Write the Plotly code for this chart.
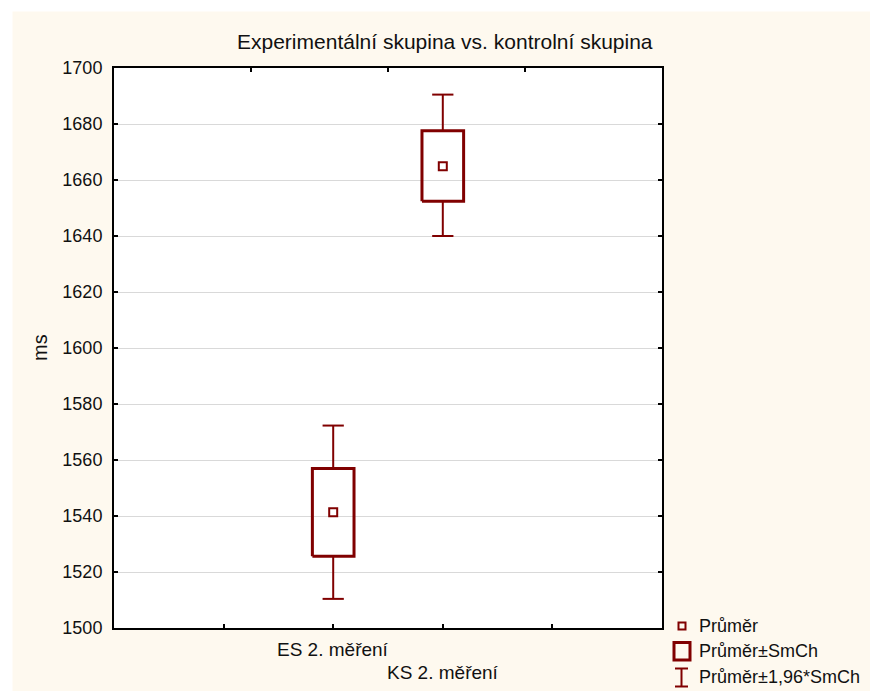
import plotly.graph_objects as go

# ---- data ----
categories = ["ES 2. měření", "KS 2. měření"]
means = [1541.3, 1664.9]
box_low = [1525.6, 1652.4]      # Průměr - SmCh
box_high = [1557.0, 1677.6]     # Průměr + SmCh
whisk_low = [1510.4, 1640.0]    # Průměr - 1,96*SmCh
whisk_high = [1572.3, 1690.5]   # Průměr + 1,96*SmCh
y_ticks = [1500, 1520, 1540, 1560, 1580, 1600, 1620, 1640, 1660, 1680, 1700]
title_text = "Experimentální skupina vs. kontrolní skupina"
y_title = "ms"
legend_labels = ["Průměr", "Průměr±SmCh", "Průměr±1,96*SmCh"]

# ---- style ----
W, H = 870, 691
L, R, T, B = 114, 662, 68, 628
RED = "#800000"
CREAM = "#FEF9EF"
FONT = "Liberation Sans, Arial, sans-serif"
TXT = "#111111"

def px(x):
    return (x - L) / (R - L)

def py(y):
    return (B - y) / (B - T)

fig = go.Figure()

pos = [i + 2 for i in range(len(categories))]
bw = 0.19
cw = 0.097

for i, c in enumerate(categories):
    x = pos[i]
    fig.add_trace(go.Scatter(
        x=[x, x, None, x, x, None, x - cw, x + cw, None, x - cw, x + cw],
        y=[box_high[i], whisk_high[i], None, box_low[i], whisk_low[i], None,
           whisk_high[i], whisk_high[i], None, whisk_low[i], whisk_low[i]],
        mode="lines", line=dict(color=RED, width=2), showlegend=False, hoverinfo="skip"))
    fig.add_trace(go.Scatter(
        x=[x - bw, x + bw, x + bw, x - bw, x - bw],
        y=[box_low[i], box_low[i], box_high[i], box_high[i], box_low[i]],
        mode="lines", line=dict(color=RED, width=3), showlegend=False, hoverinfo="skip"))

fig.add_trace(go.Scatter(
    x=pos, y=means, mode="markers",
    marker=dict(symbol="square-open", size=8, color=RED, line=dict(width=2, color=RED)),
    showlegend=False))

fig.add_trace(go.Scatter(x=[0], y=[1600], xaxis="x2", mode="markers",
                         marker=dict(opacity=0), showlegend=False, hoverinfo="skip"))

shapes = []
shapes.append(dict(type="rect", xref="paper", yref="paper", x0=px(0), x1=px(12.5), y0=py(H), y1=py(0),
                   fillcolor="white", line=dict(width=0), layer="below"))
shapes.append(dict(type="rect", xref="paper", yref="paper", x0=px(0), x1=px(W), y0=py(11.5), y1=py(0),
                   fillcolor="white", line=dict(width=0), layer="below"))

# legend glyphs
shapes.append(dict(type="rect", xref="paper", yref="paper", x0=px(678.5), x1=px(685.5), y0=py(629.5), y1=py(622.5),
                   line=dict(color=RED, width=2), fillcolor="rgba(0,0,0,0)"))
shapes.append(dict(type="rect", xref="paper", yref="paper", x0=px(674), x1=px(690), y0=py(660), y1=py(642.5),
                   line=dict(color=RED, width=3), fillcolor="rgba(0,0,0,0)"))
shapes.append(dict(type="line", xref="paper", yref="paper", x0=px(681.5), x1=px(681.5), y0=py(686.5), y1=py(668.5),
                   line=dict(color=RED, width=2)))
shapes.append(dict(type="line", xref="paper", yref="paper", x0=px(675), x1=px(688), y0=py(668.5), y1=py(668.5),
                   line=dict(color=RED, width=2)))
shapes.append(dict(type="line", xref="paper", yref="paper", x0=px(675), x1=px(688), y0=py(686.5), y1=py(686.5),
                   line=dict(color=RED, width=2)))

annotations = []
annotations.append(dict(text=title_text, xref="paper", yref="paper", x=px(445), y=py(42),
                        showarrow=False, font=dict(size=21, color=TXT, family=FONT),
                        xanchor="center", yanchor="middle"))
annotations.append(dict(text=y_title, xref="paper", yref="paper", x=px(40), y=py(348), textangle=-90,
                        showarrow=False, font=dict(size=20, color=TXT, family=FONT),
                        xanchor="center", yanchor="middle"))
label_y = [649, 672]
for i, c in enumerate(categories):
    annotations.append(dict(text=c, xref="x", yref="paper", x=pos[i], y=py(label_y[i]),
                            showarrow=False, font=dict(size=19, color=TXT, family=FONT),
                            xanchor="center", yanchor="middle"))
leg_y = [626, 651, 677]
for lab, yy in zip(legend_labels, leg_y):
    annotations.append(dict(text=lab, xref="paper", yref="paper", x=px(697), y=py(yy),
                            showarrow=False, font=dict(size=18, color=TXT, family=FONT),
                            xanchor="left", yanchor="middle"))

fig.update_layout(
    width=W, height=H,
    margin=dict(l=L, r=W - R, t=T, b=H - B, pad=0),
    paper_bgcolor=CREAM, plot_bgcolor="white",
    font=dict(family=FONT, size=16, color=TXT),
    showlegend=False,
    xaxis=dict(range=[0, 5], tickvals=[1, 2, 3, 4], ticks="inside", ticklen=4, tickwidth=1.5,
               tickcolor="black", showticklabels=False, showgrid=False, zeroline=False,
               showline=True, linecolor="black", linewidth=2, mirror=False),
    xaxis2=dict(range=[0, 4], tickvals=[1, 2, 3], ticks="inside", ticklen=4, tickwidth=1.5,
                tickcolor="black", showticklabels=False, showgrid=False, zeroline=False,
                showline=True, linecolor="black", linewidth=2, overlaying="x", side="top", anchor="y"),
    yaxis=dict(range=[1500, 1700], tickvals=y_ticks, ticks="inside", ticklen=4, tickwidth=1.5,
               tickcolor="black", showgrid=True, gridcolor="#D9D9D9", gridwidth=1, zeroline=False,
               showline=True, linecolor="black", linewidth=2, mirror="ticks",
               tickfont=dict(size=18, family=FONT, color=TXT), ticklabelstandoff=6),
    shapes=shapes, annotations=annotations,
)

fig.write_html("out.html")
